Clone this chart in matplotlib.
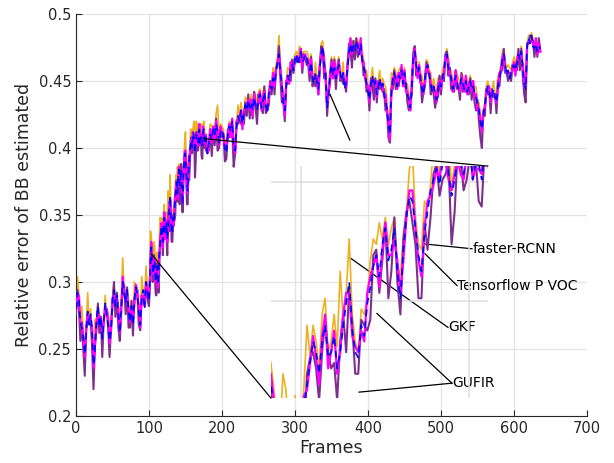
import numpy as np
import matplotlib
matplotlib.use("Agg")
import matplotlib.pyplot as plt

# ---------------- data (values in thousandths) ----------------
# coarse samples: one value every 2 frames, frames 0..636
frame_step = 2

blue_k = [
    280, 292, 286, 270, 266, 258, 246, 262, 278, 268,
    276, 262, 238, 250, 270, 282, 266, 274, 258, 270,
    284, 276, 268, 256, 264, 286, 294, 282, 290, 276,
    262, 280, 300, 292, 284, 294, 278, 270, 282, 268,
    286, 296, 290, 278, 268, 288, 294, 280, 300, 292,
    286, 312, 318, 306, 314, 304, 298, 318, 334, 338,
    342, 336, 344, 338, 356, 346, 336, 344, 362, 374,
    378, 372, 384, 358, 388, 394, 374, 382, 398, 406,
    408, 404, 402, 408, 410, 402, 408, 412, 406, 408,
    396, 404, 410, 406, 414, 410, 418, 412, 404, 412,
    414, 408, 400, 396, 410, 416, 412, 420, 400, 398,
    416, 424, 420, 428, 418, 426, 432, 428, 436, 430,
    434, 428, 438, 432, 428, 436, 440, 430, 434, 442,
    432, 426, 440, 446, 444, 452, 448, 456, 464, 470,
    456, 448, 434, 428, 446, 454, 450, 460, 462, 458,
    466, 470, 462, 468, 472, 464, 466, 470, 468, 462,
    458, 464, 452, 448, 456, 450, 444, 460, 470, 476,
    462, 452, 430, 440, 456, 462, 454, 460, 452, 458,
    462, 456, 450, 456, 444, 448, 460, 472, 478, 470,
    476, 472, 480, 476, 470, 478, 466, 462, 454, 448,
    442, 436, 448, 454, 446, 450, 440, 446, 452, 444,
    448, 440, 436, 428, 418, 410, 440, 452, 456, 450,
    446, 454, 452, 458, 448, 456, 446, 440, 436, 430,
    446, 468, 472, 462, 456, 460, 450, 444, 440, 452,
    460, 462, 454, 448, 442, 446, 440, 436, 444, 450,
    446, 452, 458, 466, 470, 460, 456, 452, 444, 448,
    454, 450, 444, 446, 452, 448, 444, 450, 442, 446,
    450, 444, 446, 440, 438, 432, 428, 420, 414, 424,
    432, 440, 446, 442, 436, 440, 444, 438, 434, 446,
    452, 458, 466, 470, 462, 454, 458, 452, 456, 460,
    462, 458, 464, 470, 466, 472, 460, 448, 444, 476,
    482, 478, 484, 476, 474, 478, 472, 476, 474,
]

orange_dev = [
    2, 12, 4, 0, 16, 2, 0, 6, 14, 0,
    4, 0, 6, 22, 2, 0, 10, 0, 4, 2,
    6, 0, 10, 4, 8, 2, 6, 0, 2, 4,
    2, 8, 18, 0, 4, 2, 8, 0, 4, 2,
    14, 0, 6, 2, 4, 16, 0, 8, 12, 2,
    4, 26, 6, 2, 10, 4, 6, 8, 2, 4,
    10, 2, 8, 30, 4, 6, 2, 8, 10, 4,
    2, 6, 4, 8, 2, 18, 4, 12, 2, 8,
    4, 16, 6, 4, 8, 2, 10, 4, 8, 2,
    6, 4, 8, 10, 2, 4, 8, 20, 4, 6,
    2, 6, 4, 8, 2, 4, 6, 0, 4, 2,
    4, 8, 2, 6, 4, 2, 6, 8, 2, 4,
    6, 2, 4, 8, 2, 6, 4, 2, 8, 4,
    2, 6, 4, 2, 4, 8, 2, 6, 4, 14,
    4, 2, 6, 2, 4, 6, 8, 2, 4, 6,
    4, 2, 6, 8, 2, 4, 6, 2, 4, 8,
    2, 6, 4, 2, 8, 4, 6, 2, 8, 4,
    2, 6, 10, 4, 2, 6, 4, 8, 2, 4,
    6, 2, 4, 8, 2, 4, 6, 2, 4, 8,
    4, 6, 2, 4, 8, 2, 6, 4, 2, 10,
    4, 8, 2, 6, 4, 2, 8, 4, 6, 2,
    4, 8, 10, 6, 4, 8, 16, 2, 4, 6,
    2, 4, 8, 2, 6, 4, 2, 8, 4, 6,
    2, 6, 4, 2, 8, 4, 6, 10, 2, 4,
    6, 2, 4, 8, 2, 6, 4, 2, 8, 4,
    2, 6, 4, 2, 4, 8, 2, 6, 4, 2,
    4, 6, 8, 2, 4, 6, 2, 4, 8, 2,
    4, 6, 2, 4, 8, 2, 6, 4, 8, 4,
    2, 6, 4, 2, 8, 4, 6, 2, 4, 8,
    4, 2, 6, 4, 2, 6, 4, 8, 2, 4,
    6, 2, 4, 2, 6, 4, 2, 8, 4, 2,
    2, 4, 2, 6, 2, 4, 2, 4, 2,
]

purple_dev = [
    -4, 2, -6, -14, 4, -8, -16, 2, -4, 6,
    -2, -10, -18, 4, -6, 2, -4, 0, -14, 2,
    -6, 4, -2, -12, 2, -4, 6, -8, 2, -10,
    -6, 2, -4, 6, -8, 2, -12, -4, 4, -8,
    2, -6, 4, -10, -4, 2, -8, 4, -2, -6,
    -4, 6, -8, 2, -6, -14, 4, -10, 2, -6,
    -4, 2, -10, 4, -18, 2, -6, 4, -12, 2,
    -6, -14, 4, -6, 2, -8, -16, 4, -10, 2,
    -6, 4, -12, 2, -8, 4, -14, 2, -6, -10,
    2, -6, 4, -12, 2, -8, 4, -14, -4, 2,
    -6, 2, -10, -4, 4, -8, 2, -6, -14, -2,
    4, -6, 2, -10, 4, -8, 2, -4, 4, -8,
    2, -6, 4, -2, -10, 4, -6, 2, -8, 4,
    -6, 2, -8, 4, -4, 2, -8, 4, -2, 6,
    -4, -14, 2, -8, 4, -6, 2, -10, 4, -2,
    2, -6, 4, -4, 2, -8, 4, -2, -6, 2,
    -8, 4, -6, 2, -10, 4, -4, 2, 6, -4,
    -10, 4, -6, 2, -8, 4, -2, 6, -8, 2,
    4, -6, 2, -8, 4, -6, 2, 6, -4, -10,
    4, -6, 2, -8, 4, -6, 2, -8, 4, -6,
    2, -8, 4, -6, -10, 2, -6, 4, -8, 2,
    -6, 4, -8, 2, -10, -6, 4, -8, 2, -6,
    4, -8, 2, -6, 4, -10, 2, -6, -8, 4,
    -6, 2, 4, -8, 2, -6, 4, -10, 2, -6,
    4, -6, 2, -8, 4, -6, -10, 2, -6, 4,
    -6, 2, -8, 4, 2, -6, 4, -8, 2, -6,
    4, -6, 2, -10, 4, -6, 2, -8, 4, -6,
    2, -8, 4, -6, -10, 4, -8, -12, -14, 2,
    -8, 4, -6, 2, -10, 4, -6, 2, -8, 4,
    -6, 2, -8, 4, -6, 2, -8, 4, -6, 2,
    -4, 2, -6, 4, -8, 2, -6, -8, -10, 2,
    -4, 6, -2, 4, -6, 2, -4, 6, -2,
]

magenta_dev = [
    2, -2, 4, -2, 2, 0, -2, 4, -2, 2,
    -2, 4, -2, 2, 0, -4, 2, -2, 4, 0,
    -2, 2, 4, -2, 0, 2, -4, 2, -2, 4,
    0, -2, 4, -2, 2, -4, 2, 0, -2, 4,
    -2, 2, 0, 4, -2, 2, -4, 2, 0, -2,
    4, -2, 2, 0, -4, 2, -2, 4, 0, -2,
    2, -4, 2, 0, 4, -2, 2, -2, 4, 0,
    -2, 2, -4, 2, 0, 4, -2, 2, -2, 0,
    4, -2, 2, -4, 2, 0, -2, 4, -2, 2,
    0, -2, 4, -2, 2, -4, 2, 0, -2, 4,
    -2, 2, 0, 4, -2, 2, -4, 2, 0, -2,
    4, -2, 2, 0, -4, 2, -2, 4, 0, -2,
    2, -4, 2, 0, 4, -2, 2, -2, 4, 0,
    -2, 2, -4, 2, 0, 4, -2, 2, -2, 0,
    4, -2, 2, -4, 2, 0, -2, 4, -2, 2,
    0, -2, 4, -2, 2, -4, 2, 0, -2, 4,
    -2, 2, 0, 4, -2, 2, -4, 2, 0, -2,
    4, -2, 2, 0, -4, 2, -2, 4, 0, -2,
    2, -4, 2, 0, 4, -2, 2, -2, 4, 0,
    -2, 2, -4, 2, 0, 4, -2, 2, -2, 0,
    4, -2, 2, -4, 2, 0, -2, 4, -2, 2,
    0, -2, 4, -2, 2, -4, 2, 0, -2, 4,
    -2, 2, 0, 4, -2, 2, -4, 2, 0, -2,
    4, -2, 2, 0, -4, 2, -2, 4, 0, -2,
    2, -4, 2, 0, 4, -2, 2, -2, 4, 0,
    -2, 2, -4, 2, 0, 4, -2, 2, -2, 0,
    4, -2, 2, -4, 2, 0, -2, 4, -2, 2,
    0, -2, 4, -2, 2, -4, 2, 0, -2, 4,
    -2, 2, 0, 4, -2, 2, -4, 2, 0, -2,
    4, -2, 2, 0, -4, 2, -2, 4, 0, -2,
    2, -4, 2, 0, 4, -2, 2, -2, 4, 0,
    -2, 2, -4, 2, 0, 4, -2, 2, -2,
]

# extra samples at the odd frames 101..177 (the magnified stretch)
odd_first, odd_last = 101, 177
blue_odd_k = [
    300, 326, 310, 316, 300, 312, 306, 326, 342, 330,
    348, 338, 332, 348, 364, 338, 348, 356, 370, 366,
    384, 376, 368, 376, 396, 384, 368, 390, 402, 400,
    412, 396, 410, 404, 414, 408, 402, 414, 404,
]
orange_odd_dev = [
    4, 8, 2, 14, 4, 10, 2, 22, 6, 2,
    10, 4, 8, 2, 16, 4, 6, 2, 10, 20,
    4, 8, 2, 6, 10, 4, 8, 2, 12, 4,
    6, 2, 10, 4, 2, 8, 4, 6, 2,
]
purple_odd_dev = [
    -6, 2, -10, 4, -8, 2, -14, 4, -4, -10,
    2, -6, -12, 4, -2, -8, 2, -10, 4, -6,
    2, -8, -4, 4, -2, -6, -10, -14, 2, -4,
    -8, -18, 2, -6, -4, 2, -10, -4, 2,
]
magenta_odd_dev = [
    -2, 4, -4, 2, 0, -4, 4, -2, 2, -4,
    4, 0, -2, 4, -4, 2, -2, 4, 0, -4,
    2, -2, 4, -4, 2, 0, -2, 4, -2, 2,
    -4, 2, 0, -2, 4, -2, 2, -4, 2,
]

xticks = [0, 100, 200, 300, 400, 500, 600, 700]
yticks = [0.2, 0.25, 0.3, 0.35, 0.4, 0.45, 0.5]
ytick_labels = ["0.2", "0.25", "0.3", "0.35", "0.4", "0.45", "0.5"]

# zoom region (source in data coords) and where the magnified view sits
zoom_src_x = (103, 175)
zoom_src_y = (0.321, 0.407)
zoom_dst_x = (267, 564)
zoom_dst_y = (0.2134, 0.3865)

# ---------------- build series ----------------
n = min(len(blue_k), len(orange_dev), len(purple_dev), len(magenta_dev))
m = min(len(blue_odd_k), len(orange_odd_dev), len(purple_odd_dev), len(magenta_odd_dev))
fr = np.concatenate([np.arange(n) * frame_step, np.arange(odd_first, odd_last + 1, 2)[:m]])
b = np.concatenate([blue_k[:n], blue_odd_k[:m]]).astype(float)
o = b + np.concatenate([orange_dev[:n], orange_odd_dev[:m]])
p = b + np.concatenate([purple_dev[:n], purple_odd_dev[:m]])
mg = b + np.concatenate([magenta_dev[:n], magenta_odd_dev[:m]])
order = np.argsort(fr, kind='stable')
frames = fr[order]
blue = b[order] / 1000.0
orange = o[order] / 1000.0
purple = p[order] / 1000.0
magenta = mg[order] / 1000.0

plt.rcParams['font.family'] = ['DejaVu Sans']
TXT = '#262626'

fig = plt.figure(figsize=(6.14, 4.63), dpi=100)
W, H = 614, 463
ax = fig.add_axes([76 / W, 1 - 416 / H, (587 - 76) / W, (416 - 14) / H])


def draw_series(a):
    a.plot(frames, orange, color='#EDB120', lw=1.2, zorder=2)
    a.plot(frames, purple, color='#7E2F8E', lw=1.5, zorder=3)
    a.plot(frames, magenta, color='#FF00FF', lw=1.6, zorder=4)
    a.plot(frames, blue, color='#0000FF', lw=1.2, dashes=(4, 3), zorder=5)


draw_series(ax)
ax.set_xlim(0, 700)
ax.set_ylim(0.2, 0.5)
ax.set_xticks(xticks)
ax.set_yticks(yticks)
ax.set_yticklabels(ytick_labels)
ax.grid(True, color='#e3e3e3', lw=0.9)
ax.set_axisbelow(True)
for s in ['top', 'right']:
    ax.spines[s].set_visible(False)
for s in ['left', 'bottom']:
    ax.spines[s].set_color(TXT)
    ax.spines[s].set_linewidth(0.8)
ax.tick_params(direction='in', length=4, color=TXT, labelcolor=TXT, labelsize=10.5, width=0.8)
ax.set_xlabel('Frames', fontsize=12.5, color=TXT, labelpad=2)
ax.set_ylabel('Relative error of BB estimated', fontsize=12.5, color=TXT, labelpad=4)

# ---------------- magnified inset ----------------
inv = fig.transFigure.inverted()
p0 = inv.transform(ax.transData.transform((zoom_dst_x[0], zoom_dst_y[0])))
p1 = inv.transform(ax.transData.transform((zoom_dst_x[1], zoom_dst_y[1])))
axin = fig.add_axes([p0[0], p0[1], p1[0] - p0[0], p1[1] - p0[1]])
axin.set_facecolor('none')
draw_series(axin)
axin.set_xlim(*zoom_src_x)
axin.set_ylim(*zoom_src_y)
axin.set_xticks([113, 168.7])
axin.set_yticks([0.357, 0.401])
axin.tick_params(length=0, labelbottom=False, labelleft=False)
for s in axin.spines.values():
    s.set_visible(False)
axin.grid(True, color='#dedede', lw=1.1)
axin.set_axisbelow(True)

# connector lines
ax.plot([zoom_src_x[0], zoom_dst_x[0]], [zoom_src_y[0], zoom_dst_y[0]], color='k', lw=0.9, zorder=8, clip_on=False)
ax.plot([zoom_src_x[1], zoom_dst_x[1]], [zoom_src_y[1], zoom_dst_y[1]], color='k', lw=0.9, zorder=8, clip_on=False)
ax.plot([348, 375], [0.44, 0.406], color='k', lw=0.9, zorder=8)

# annotations
ann = [
    ("faster-RCNN", [(475.3, 0.3285)], (542.5, 0.3248)),
    ("Tensorflow P VOC", [(478, 0.3211)], (522, 0.2973)),
    ("GKF", [(375.3, 0.3181)], (509.6, 0.2661)),
    ("GUFIR", [(412.3, 0.2765), (387.7, 0.2178)], (515, 0.2245)),
]
for label, pts, tpos in ann:
    for (px, py) in pts:
        ax.plot([px, tpos[0]], [py, tpos[1]], color='k', lw=0.9, zorder=9)
    ax.text(tpos[0] + 0.5, tpos[1], label, fontsize=10, ha='left', va='center', color='k', zorder=10)

fig.savefig('out.png', dpi=100)
